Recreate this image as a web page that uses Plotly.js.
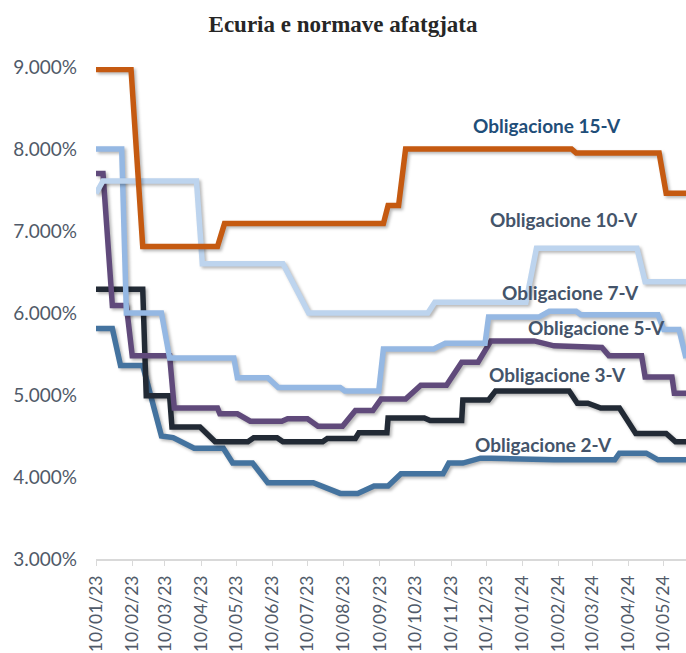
<!DOCTYPE html>
<html>
<head>
<meta charset="utf-8">
<script src="https://cdn.plot.ly/plotly-3.0.1.min.js"></script>
<style>
html,body{margin:0;padding:0;background:#fff;}
#chart{width:686px;height:653px;}
#chart .scatterlayer .trace path.js-line{filter:drop-shadow(2px 2.5px 1.5px rgba(0,0,0,0.28));}
</style>
</head>
<body>
<div id="chart"></div>
<script>
// ---- Data ----
const seriesNames = ["Obligacione 2-V","Obligacione 3-V","Obligacione 5-V","Obligacione 7-V","Obligacione 10-V","Obligacione 15-V"];

const dates2 = ["2023-01-10","2023-01-24","2023-01-31","2023-02-19","2023-03-07","2023-03-17","2023-04-04","2023-04-29","2023-05-07","2023-05-24","2023-06-06","2023-07-15","2023-08-07","2023-08-22","2023-09-05","2023-09-17","2023-09-28","2023-11-03","2023-11-08","2023-11-20","2023-12-05","2023-12-14","2024-02-06","2024-03-29","2024-04-02","2024-04-25","2024-05-05","2024-05-29"];
const vals2  = [5.81,5.81,5.36,5.36,4.50,4.48,4.35,4.35,4.17,4.17,3.93,3.93,3.80,3.80,3.89,3.89,4.04,4.04,4.17,4.17,4.23,4.23,4.21,4.21,4.29,4.29,4.21,4.21];

const dates3 = ["2023-01-10","2023-02-19","2023-02-22","2023-03-14","2023-03-16","2023-04-09","2023-04-22","2023-05-20","2023-05-25","2023-06-14","2023-06-19","2023-07-23","2023-07-27","2023-08-20","2023-08-23","2023-09-16","2023-09-17","2023-10-18","2023-10-23","2023-11-19","2023-11-20","2023-12-12","2023-12-18","2024-02-19","2024-02-26","2024-03-06","2024-03-17","2024-04-02","2024-04-16","2024-05-12","2024-05-20","2024-05-29"];
const vals3  = [6.29,6.29,4.99,4.99,4.61,4.61,4.43,4.43,4.48,4.48,4.43,4.43,4.47,4.47,4.54,4.54,4.72,4.72,4.69,4.69,4.94,4.94,5.05,5.05,4.90,4.90,4.84,4.84,4.53,4.53,4.43,4.43];

const dates5 = ["2023-01-10","2023-01-16","2023-01-24","2023-02-05","2023-02-10","2023-03-14","2023-03-18","2023-04-24","2023-04-26","2023-05-11","2023-05-22","2023-06-18","2023-06-23","2023-07-10","2023-07-19","2023-08-09","2023-08-20","2023-09-04","2023-09-11","2023-10-02","2023-10-15","2023-11-06","2023-11-19","2023-12-03","2023-12-14","2024-01-20","2024-02-06","2024-03-18","2024-03-24","2024-04-21","2024-04-24","2024-05-17","2024-05-19","2024-05-29"];
const vals5  = [7.70,7.70,6.09,6.09,5.48,5.48,4.84,4.84,4.77,4.77,4.68,4.68,4.71,4.71,4.62,4.62,4.81,4.81,4.95,4.95,5.12,5.12,5.40,5.40,5.66,5.66,5.60,5.58,5.48,5.48,5.22,5.22,5.02,5.02];

const dates7 = ["2023-01-10","2023-02-01","2023-02-05","2023-03-07","2023-03-14","2023-05-08","2023-05-11","2023-06-06","2023-06-15","2023-08-07","2023-08-11","2023-09-09","2023-09-13","2023-10-26","2023-11-05","2023-12-09","2023-12-12","2024-01-24","2024-02-02","2024-02-25","2024-02-29","2024-05-05","2024-05-10","2024-05-23","2024-05-29"];
const vals7  = [8.00,8.00,6.00,6.00,5.45,5.45,5.21,5.21,5.09,5.09,5.05,5.05,5.56,5.56,5.63,5.63,5.95,5.95,6.02,6.02,5.98,5.98,5.80,5.80,5.45];

const dates10 = ["2023-01-10","2023-01-16","2023-04-06","2023-04-11","2023-06-19","2023-07-11","2023-10-21","2023-10-27","2024-01-13","2024-01-22","2024-04-17","2024-04-24","2024-05-29"];
const vals10  = [7.46,7.61,7.61,6.60,6.60,6.00,6.00,6.13,6.13,6.79,6.79,6.38,6.38];

const dates15 = ["2023-01-10","2023-02-09","2023-02-19","2023-04-24","2023-04-30","2023-09-13","2023-09-17","2023-09-26","2023-10-02","2024-02-21","2024-02-25","2024-05-06","2024-05-12","2024-05-29"];
const vals15  = [8.97,8.97,6.81,6.81,7.09,7.09,7.31,7.31,8.00,8.00,7.95,7.95,7.46,7.46];

const tickDates  = ["2023-01-10","2023-02-10","2023-03-10","2023-04-10","2023-05-10","2023-06-10","2023-07-10","2023-08-10","2023-09-10","2023-10-10","2023-11-10","2023-12-10","2024-01-10","2024-02-10","2024-03-10","2024-04-10","2024-05-10"];
const tickLabels = ["10/01/23","10/02/23","10/03/23","10/04/23","10/05/23","10/06/23","10/07/23","10/08/23","10/09/23","10/10/23","10/11/23","10/12/23","10/01/24","10/02/24","10/03/24","10/04/24","10/05/24"];
const yTickVals  = [3,4,5,6,7,8,9];
const yTickText  = ["3.000%","4.000%","5.000%","6.000%","7.000%","8.000%","9.000%"];
const xRange = ["2023-01-10","2024-05-29"];

// ---- Styling ----
const colors = ["#44739F","#222A35","#604A7B","#95B8E3","#BDD4EE","#C55A11"];
const allDates = [dates2,dates3,dates5,dates7,dates10,dates15];
const allVals  = [vals2,vals3,vals5,vals7,vals10,vals15];

const traces = [];
for (let i=0;i<allDates.length;i++){
  traces.push({
    x: allDates[i], y: allVals[i], type:"scatter", mode:"lines",
    name: seriesNames[i],
    line:{color:colors[i], width:5.5},
    hoverinfo:"x+y+name"
  });
}

const labelPos = [[0.758,0.232],[0.783,0.374],[0.849,0.470],[0.805,0.541],[0.793,0.691],[0.764,0.882]];
const labelColors = ["#44546A","#44546A","#44546A","#44546A","#44546A","#1F4E79"];
const annotations = seriesNames.map((n,i)=>({
  text:n, xref:"paper", yref:"paper", x:labelPos[i][0], y:labelPos[i][1],
  xanchor:"center", yanchor:"middle", showarrow:false,
  font:{family:"Lato, 'Open Sans', sans-serif", size:19, color:labelColors[i], weight:700}
}));

const layout = {
  width:686, height:653,
  margin:{l:96, r:0, t:67, b:94},
  paper_bgcolor:"#ffffff", plot_bgcolor:"#ffffff",
  showlegend:false,
  title:{text:"<b>Ecuria e normave afatgjata</b>", x:0.5, xref:"container", y:0.964, yref:"container", yanchor:"middle",
         font:{family:"'Liberation Serif', 'Times New Roman', serif", size:23, color:"#262626"}},
  xaxis:{
    type:"date", range:xRange, tickmode:"array", tickvals:tickDates, ticktext:tickLabels,
    tickangle:-90, showgrid:false, zeroline:false, showline:true, linecolor:"#D9D9D9", linewidth:1.5,
    ticks:"outside", ticklen:5, tickcolor:"#D9D9D9", ticklabelstandoff:3,
    tickfont:{family:"Lato, 'Open Sans', sans-serif", size:17.5, color:"#505A69"}
  },
  yaxis:{
    range:[3,9], tickmode:"array", tickvals:yTickVals, ticktext:yTickText,
    showgrid:false, zeroline:false, showline:false, ticks:"", ticklabelstandoff:18,
    tickfont:{family:"Lato, 'Open Sans', sans-serif", size:19, color:"#505A69"}
  },
  annotations: annotations
};

Plotly.newPlot("chart", traces, layout, {staticPlot:true});
</script>
</body>
</html>
